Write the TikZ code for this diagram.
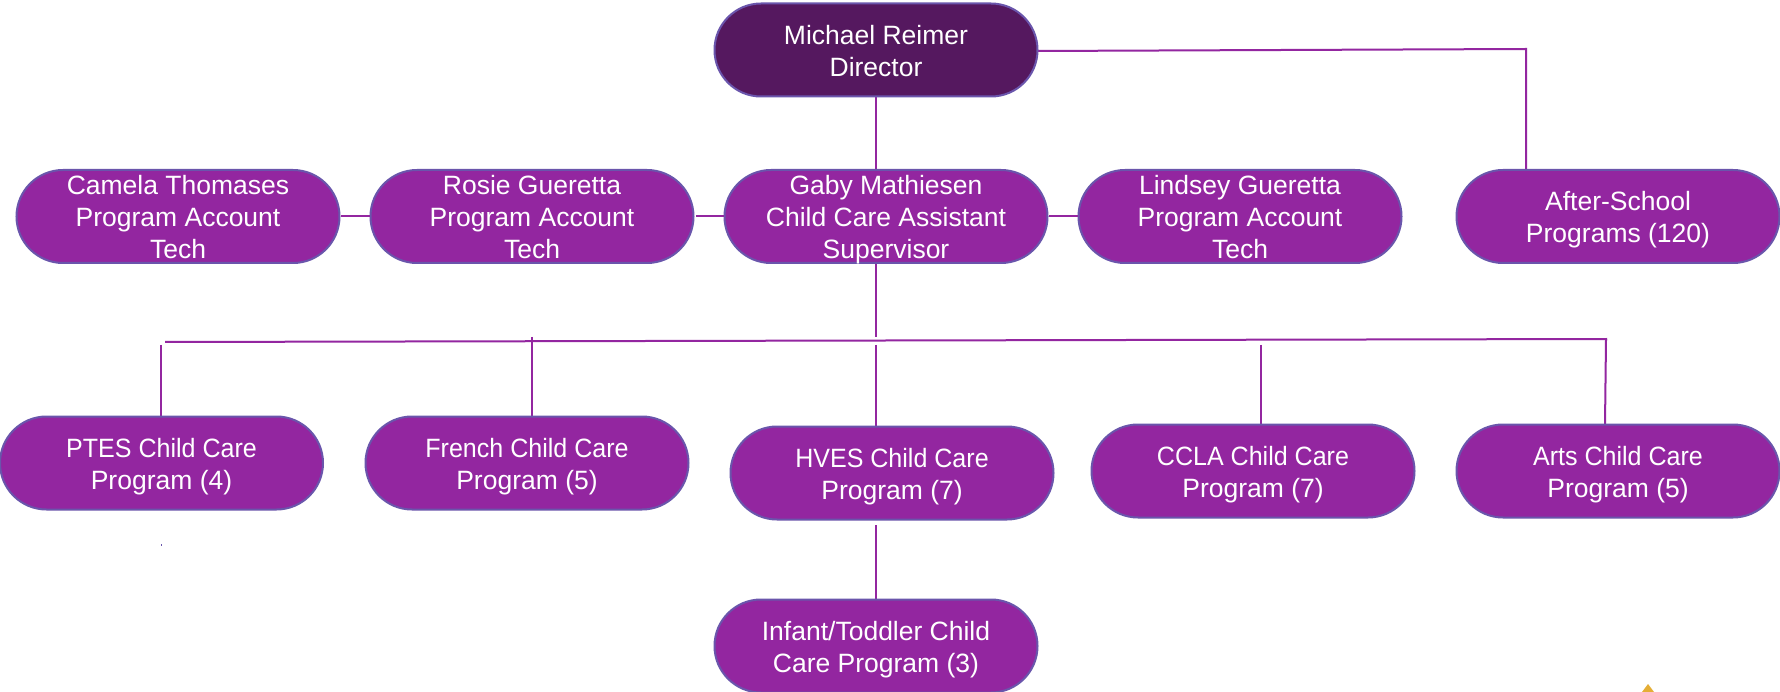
\documentclass[tikz,border=0pt]{standalone}
\usepackage{fontspec}
\setmainfont{Liberation Sans}
\usetikzlibrary{shapes.misc}
\definecolor{boxfill}{HTML}{9326A0}
\definecolor{topfill}{HTML}{55185F}
\definecolor{boxedge}{HTML}{6A55AC}
\definecolor{linkcol}{HTML}{9326A0}
\definecolor{gold}{HTML}{E5AE35}
\newcommand{\pilltext}[2][-10pt]{\raisebox{#1}[0pt][0pt]{\begin{tabular}{@{}c@{}}#2\end{tabular}}}
\newcommand{\tightline}[1]{\scalebox{0.945}[1]{#1}}
\tikzset{
  x=1pt,y=-1pt,
  pill/.style={rounded rectangle,draw=boxedge,line width=2pt,fill=boxfill,text=white,
    minimum width=323pt,minimum height=93pt,inner sep=0pt,
    font=\fontsize{26.5}{32}\selectfont},
  link/.style={draw=linkcol,line width=2pt},
}
\begin{document}
\begin{tikzpicture}
\useasboundingbox (0,0) rectangle (1780,692);
\fill[white] (0,0) rectangle (1780,692);
% free ends and corners of the connectors
\coordinate (dcorner) at (1526,49);
\coordinate (aftertop) at (1526,170);
\coordinate (dright) at (1038,51);
\coordinate (stemtop) at (876,97);
\coordinate (gabyup) at (876,170);
\coordinate (gabydown) at (876,264);
\coordinate (stemend) at (876,337);
\coordinate (trunkl) at (165,342);
\coordinate (trunkr) at (1607,339);
\coordinate (ptesup) at (161,345);
\coordinate (ptestop) at (161,416);
\coordinate (frup) at (532,337);
\coordinate (frtop) at (532,416);
\coordinate (hvup) at (876,345);
\coordinate (hvtop) at (876,426);
\coordinate (hvdown) at (876,525);
\coordinate (inftop) at (876,599);
\coordinate (ccup) at (1261,345);
\coordinate (cctop) at (1261,424);
\coordinate (arup) at (1606,339);
\coordinate (artop) at (1605,424);
\coordinate (rgl) at (696,216.5);
% connectors
\draw[link] (dright) -- (dcorner) -- (aftertop);
\draw[link] (stemtop) -- (gabyup);
\draw[link] (gabydown) -- (stemend);
\draw[link] (trunkl) -- (trunkr);
\draw[link] (ptesup) -- (ptestop);
\draw[link] (frup) -- (frtop);
\draw[link] (hvup) -- (hvtop);
\draw[link] (hvdown) -- (inftop);
\draw[link] (ccup) -- (cctop);
\draw[link] (arup) -- (artop);
% nodes
\node[pill,fill=topfill] (director) at (876,50) {\pilltext{Michael Reimer\\Director}};
\node[pill] (camela) at (178,216.5) {\pilltext{Camela Thomases\\Program Account\\Tech}};
\node[pill] (rosie) at (532,216.5) {\pilltext{Rosie Gueretta\\Program Account\\Tech}};
\node[pill] (gaby) at (886,216.5) {\pilltext{Gaby Mathiesen\\Child Care Assistant\\Supervisor}};
\node[pill] (lindsey) at (1240,216.5) {\pilltext{Lindsey Gueretta\\Program Account\\Tech}};
\node[pill] (after) at (1618,216.5) {\pilltext{After-School\\Programs (120)}};
\node[pill] (ptes) at (161.5,463) {\pilltext{\tightline{PTES Child Care}\\Program (4)}};
\node[pill] (french) at (527,463) {\pilltext{\tightline{French Child Care}\\Program (5)}};
\node[pill] (hves) at (892,473) {\pilltext{\tightline{HVES Child Care}\\Program (7)}};
\node[pill] (ccla) at (1253,471) {\pilltext{\tightline{CCLA Child Care}\\Program (7)}};
\node[pill] (arts) at (1618,471) {\pilltext{\tightline{Arts Child Care}\\Program (5)}};
\node[pill] (infant) at (876,646) {\pilltext{Infant/Toddler Child\\Care Program (3)}};
% side links
\draw[link] (camela.east) -- (rosie.west);
\draw[link] (rgl) -- (gaby.west);
\draw[link] (gaby.east) -- (lindsey.west);
% stray marks
\fill[boxedge] (161,544) rectangle (162,546);
\fill[gold] (1642,692) -- (1648,684) -- (1654,692) -- cycle;
\end{tikzpicture}
\end{document}
